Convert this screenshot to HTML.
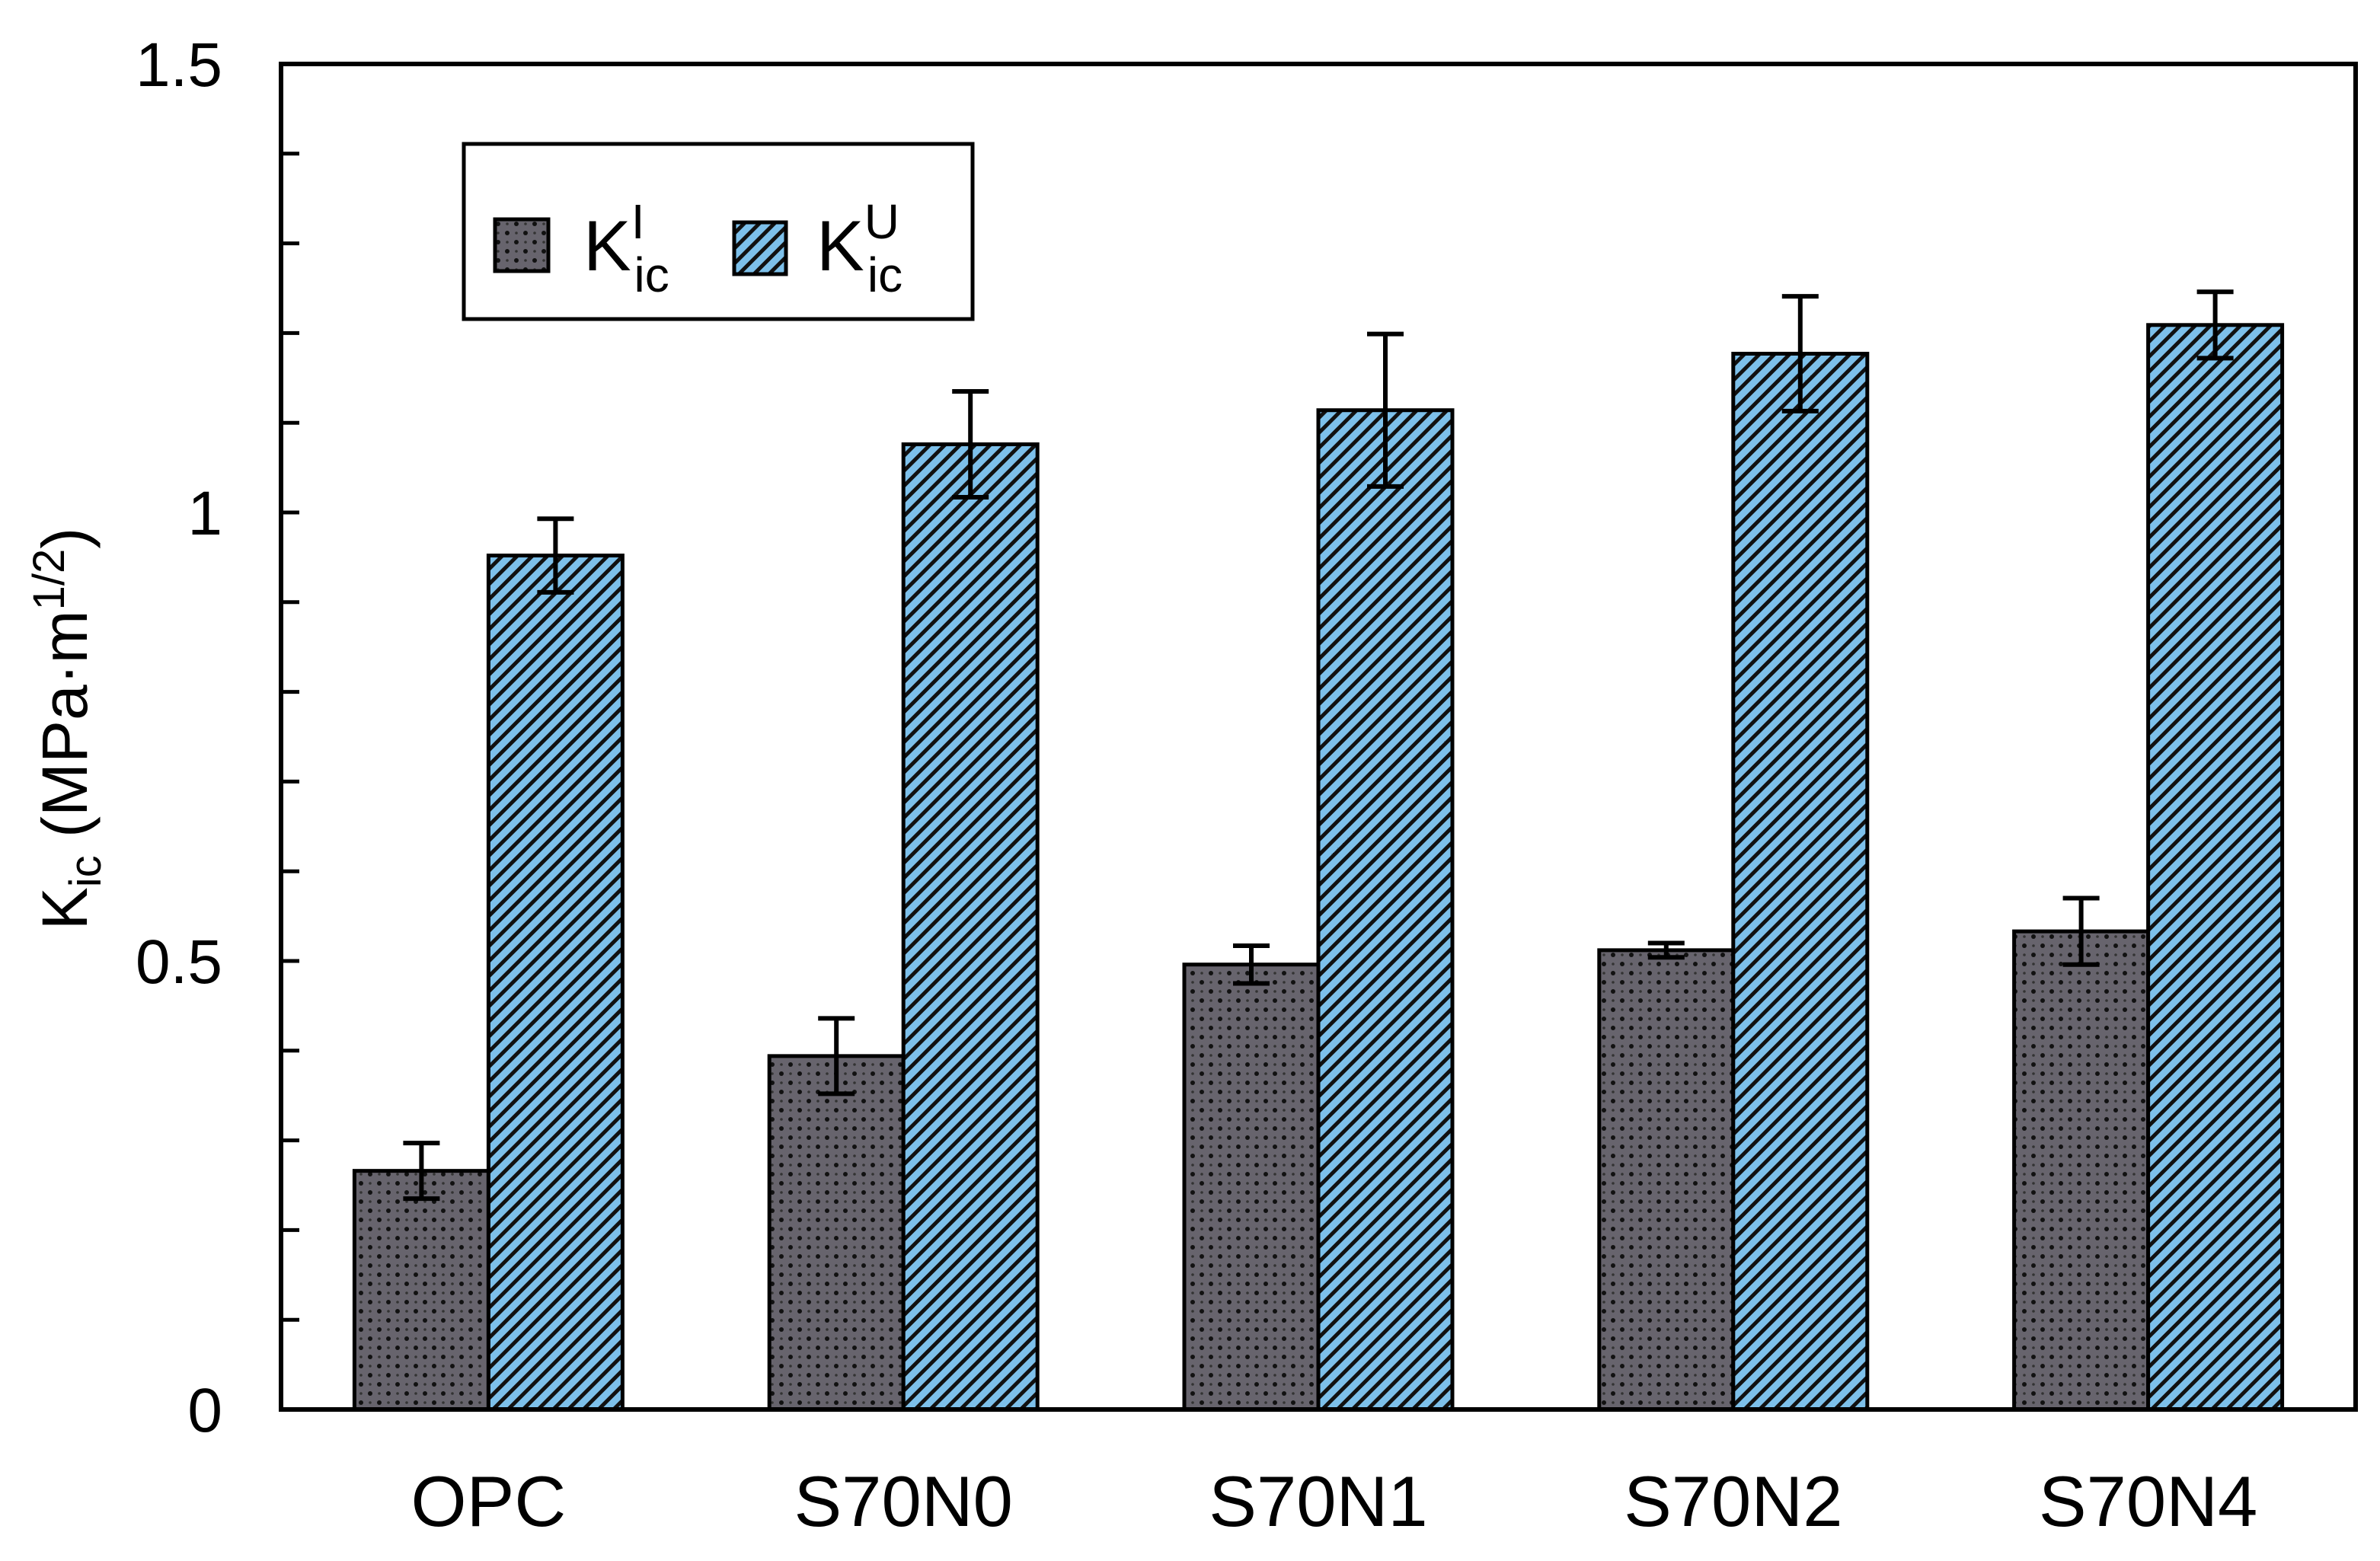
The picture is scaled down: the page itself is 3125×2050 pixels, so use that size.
<!DOCTYPE html>
<html><head><meta charset="utf-8"><style>
html,body{margin:0;padding:0;background:#fff;}
svg{display:block;font-family:"Liberation Sans",sans-serif;}
</style></head><body>
<svg id="chart" width="3125" height="2050" viewBox="0 0 3125 2050" xmlns="http://www.w3.org/2000/svg">
<defs>
<pattern id="dots" patternUnits="userSpaceOnUse" width="24" height="24">
<rect width="24" height="24" fill="#67646d"/>
<circle cx="6" cy="6" r="3" fill="#111"/><circle cx="18" cy="18" r="3" fill="#111"/>
<circle cx="18" cy="6" r="1.8" fill="#333"/><circle cx="6" cy="18" r="1.8" fill="#333"/>
</pattern>
<pattern id="hatch" patternUnits="userSpaceOnUse" width="14" height="14" patternTransform="rotate(45)">
<rect width="14" height="14" fill="#7dc0ea"/>
<rect x="0" y="0" width="5" height="14" fill="#111"/>
</pattern>
</defs>
<g id="plot"></g>
</svg>
<script>
const categories = ["OPC","S70N0","S70N1","S70N2","S70N4"];
const kI = [0.266,0.394,0.496,0.512,0.533];
const kIerr = [0.031,0.042,0.021,0.008,0.037];
const kU = [0.952,1.076,1.114,1.177,1.209];
const kUerr = [0.041,0.059,0.085,0.064,0.037];
const yTicks = [0,0.5,1,1.5];
const yTickLabels = ["0","0.5","1","1.5"];

const L=369,R=3093,T=84,B=1851,yMax=1.5;
const NS="http://www.w3.org/2000/svg";
const g=document.getElementById('plot');
function y(v){return B-(v/yMax)*(B-T);}
const gw=(R-L)/categories.length, bw=176;
function xc(i){return L+gw*(i+0.5);}
function el(tag,attrs,parent){const e=document.createElementNS(NS,tag);for(const k in attrs)e.setAttribute(k,attrs[k]);(parent||g).appendChild(e);return e;}

function drawSeries(vals,errs,fill,offset,name){
  vals.forEach((v,i)=>{
    const x=xc(i)+offset;
    const r=el('rect',{x:x,y:y(v),width:bw,height:B-y(v),fill:fill,stroke:'#000','stroke-width':5});
    
    
    const cx=x+bw/2, e=errs[i];
    const eb=el('path',{d:`M${cx},${y(v+e)}V${y(v-e)}M${cx-24},${y(v+e)}H${cx+24}M${cx-24},${y(v-e)}H${cx+24}`,stroke:'#000','stroke-width':6,fill:'none'});
    
    
  });
}
drawSeries(kI,kIerr,'url(#dots)',-bw,'kI');
drawSeries(kU,kUerr,'url(#hatch)',0,'kU');

const fr=el('rect',{x:L,y:T,width:R-L,height:B-T,fill:'none',stroke:'#000','stroke-width':6});



for(let k=1;k<15;k++){
  const t=el('line',{x1:L,x2:L+24,y1:y(k/10),y2:y(k/10),stroke:'#000','stroke-width':5});
  
  
}
yTicks.forEach((v,i)=>{
  const t=el('text',{x:292,y:y(v)+29,'text-anchor':'end','font-size':82,fill:'#000'});
  t.textContent=yTickLabels[i];
  
  
});
categories.forEach((c,i)=>{
  const t=el('text',{x:xc(i),y:2004,'text-anchor':'middle','font-size':94,fill:'#000'});
  t.textContent=c;
  
  
});

const yt=el('text',{transform:'translate(114,957) rotate(-90)','text-anchor':'middle','font-size':84,fill:'#000'});


yt.innerHTML='K<tspan font-size="58" dy="18">ic</tspan><tspan dy="-18"> (MPa·m</tspan><tspan font-size="58" dy="-30">1/2</tspan><tspan dy="30">)</tspan>';

const lg=el('g',{});


el('rect',{x:609,y:189,width:668,height:230,fill:'#fff',stroke:'#000','stroke-width':5},lg);
const s1=el('rect',{x:650,y:288,width:70,height:68,fill:'url(#dots)',stroke:'#000','stroke-width':5},lg);


const s2=el('rect',{x:964,y:292,width:68,height:68,fill:'url(#hatch)',stroke:'#000','stroke-width':5},lg);


const t1=el('text',{x:766,y:355,'font-size':94,fill:'#000'},lg);
t1.innerHTML='K<tspan font-size="64" dy="-42">I</tspan><tspan font-size="64" dy="70" dx="-14">ic</tspan>';


const t2=el('text',{x:1072,y:355,'font-size':94,fill:'#000'},lg);
t2.innerHTML='K<tspan font-size="64" dy="-42">U</tspan><tspan font-size="64" dy="70" dx="-42">ic</tspan>';


</script>
</body></html>
